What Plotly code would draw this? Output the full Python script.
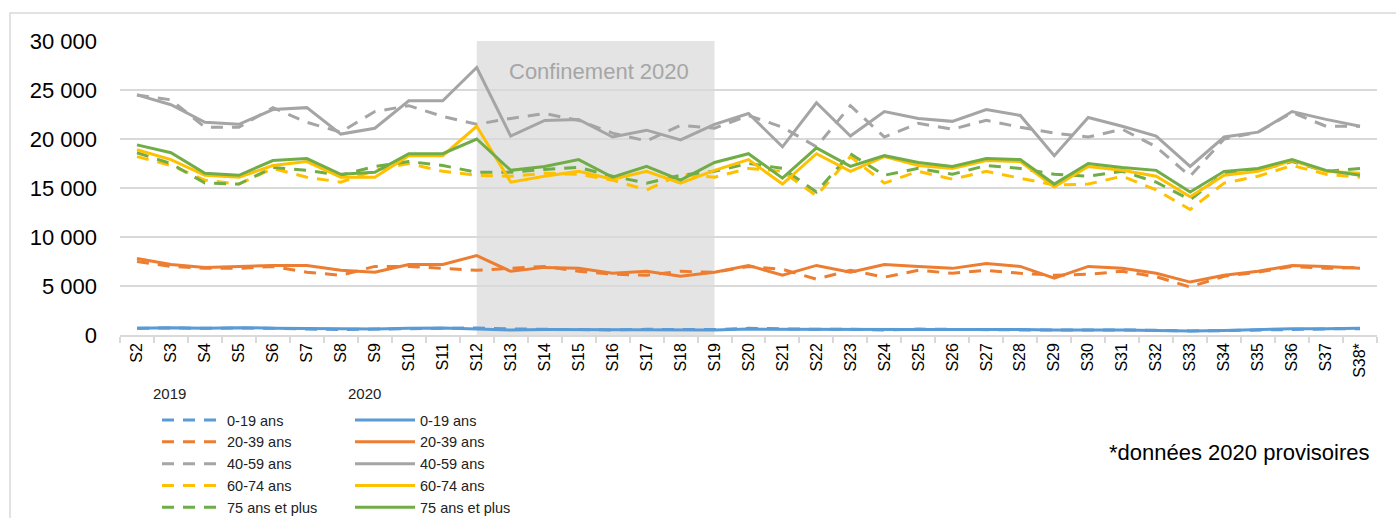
import plotly.graph_objects as go

weeks = ["S%d" % i for i in range(2, 38)] + ["S38*"]

# 2019 (dashed)
y2019_0_19 = [680, 720, 680, 720, 680, 620, 550, 600, 650, 700,
              720, 620, 620, 550, 520, 580, 550, 550, 680, 620,
              580, 580, 520, 600, 550, 550, 520, 520, 550, 520,
              480, 420, 450, 520, 600, 620, 650]
y2019_20_39 = [7500, 7000, 6800, 6800, 7000, 6400, 6100, 7000, 7000, 6800,
               6600, 6800, 7000, 6500, 6200, 6100, 6500, 6400, 7000, 6700,
               5700, 6600, 5900, 6600, 6300, 6600, 6300, 6100, 6200, 6500,
               5950, 4900, 6000, 6400, 7000, 6800, 6900]
y2019_40_59 = [24500, 24000, 21200, 21200, 23200, 21700, 20700, 22800, 23400, 22300,
               21500, 22100, 22600, 21900, 20600, 19800, 21400, 21100, 22400, 21200,
               19200, 23400, 20200, 21600, 21000, 21900, 21200, 20600, 20200, 21000,
               19200, 16200, 20000, 20700, 22700, 21300, 21300]
y2019_60_74 = [18200, 17300, 15800, 15400, 17000, 16100, 15600, 16800, 17500, 16700,
               16300, 16200, 16500, 16400, 15800, 14800, 16400, 16100, 17000, 16700,
               14200, 18200, 15500, 16700, 15900, 16700, 16000, 15300, 15400, 16200,
               14800, 12800, 15500, 16200, 17300, 16400, 16100]
y2019_75 = [18600, 17500, 15500, 15400, 17100, 16800, 16300, 17200, 17700, 17300,
            16600, 16600, 16900, 17100, 16200, 15500, 16300, 16700, 17500, 17000,
            14600, 18500, 16300, 17000, 16400, 17300, 17000, 16400, 16200, 16700,
            15600, 13800, 16500, 16800, 17700, 16700, 17000]

# 2020 (solid)
y2020_0_19 = [700, 750, 700, 750, 700, 650, 600, 620, 680, 720,
              620, 500, 550, 550, 500, 520, 500, 520, 600, 580,
              550, 520, 550, 550, 550, 580, 550, 500, 520, 500,
              450, 400, 450, 550, 650, 650, 680]
y2020_20_39 = [7800, 7200, 6900, 7000, 7100, 7100, 6600, 6400, 7200, 7200,
               8100, 6500, 6900, 6800, 6300, 6500, 6000, 6400, 7100, 6100,
               7100, 6400, 7200, 7000, 6800, 7300, 7000, 5800, 7000, 6800,
               6300, 5400, 6100, 6500, 7100, 7000, 6800]
y2020_40_59 = [24500, 23500, 21700, 21500, 23000, 23200, 20500, 21100, 23900, 23900,
               27300, 20300, 21900, 22000, 20200, 20900, 19900, 21500, 22600, 19200,
               23700, 20300, 22800, 22100, 21800, 23000, 22400, 18300, 22200, 21300,
               20300, 17200, 20200, 20700, 22800, 22000, 21300]
y2020_60_74 = [18900, 17900, 16300, 16100, 17300, 17700, 16100, 16100, 18300, 18300,
               21300, 15600, 16200, 16700, 15900, 16700, 15500, 16800, 17900, 15400,
               18500, 16700, 18200, 17300, 17000, 17800, 17700, 15100, 17200, 16800,
               16200, 14100, 16300, 16700, 17800, 16700, 16500]
y2020_75 = [19400, 18600, 16500, 16300, 17800, 18000, 16400, 16600, 18500, 18500,
            20000, 16800, 17200, 17900, 16100, 17200, 15800, 17600, 18500, 16000,
            19100, 17200, 18300, 17600, 17200, 18000, 17900, 15400, 17500, 17100,
            16800, 14600, 16700, 17000, 17900, 16800, 16300]

age_labels = ["0-19 ans", "20-39 ans", "40-59 ans", "60-74 ans", "75 ans et plus"]
colors = ["#5B9BD5", "#ED7D31", "#A5A5A5", "#FFC000", "#70AD47"]
series2019 = [y2019_0_19, y2019_20_39, y2019_40_59, y2019_60_74, y2019_75]
series2020 = [y2020_0_19, y2020_20_39, y2020_40_59, y2020_60_74, y2020_75]

FONT = "Liberation Sans, Arial, sans-serif"

fig = go.Figure()
for lab, col, ys in zip(age_labels, colors, series2019):
    fig.add_trace(go.Scatter(x=weeks, y=ys, mode="lines", name=lab,
                             line=dict(color=col, width=3, dash="12px,9px"),
                             legend="legend"))
for lab, col, ys in zip(age_labels, colors, series2020):
    fig.add_trace(go.Scatter(x=weeks, y=ys, mode="lines", name=lab,
                             line=dict(color=col, width=3),
                             legend="legend2"))

i0 = weeks.index("S12")
i1 = weeks.index("S19")
fig.add_shape(type="rect", xref="x", yref="y", x0=i0, x1=i1, y0=0, y1=30000,
              fillcolor="#e4e4e4", line=dict(width=0), layer="below")

# outer frame
L, T, W, H = 120, 41, 1257, 294
def px(x): return (x - L) / W
def py(y): return (T + H - y) / H
fig.add_shape(type="rect", xref="paper", yref="paper",
              x0=px(10), x1=px(1402), y0=py(530), y1=py(13),
              line=dict(color="#d9d9d9", width=1.5), fillcolor="rgba(0,0,0,0)", layer="below")

fig.add_annotation(x=px(599), y=26900, xref="paper", yref="y", text="Confinement 2020",
                   showarrow=False, font=dict(family=FONT, size=22, color="#a6a6a6"),
                   xanchor="center", yanchor="middle")
fig.add_annotation(x=px(1372), y=py(452), xref="paper", yref="paper",
                   text="*données 2020 provisoires", showarrow=False,
                   font=dict(family=FONT, size=22, color="#000000"),
                   xanchor="right", yanchor="middle")
for txt, xx in (("2019", 151), ("2020", 346)):
    fig.add_annotation(x=px(xx), y=py(393), xref="paper", yref="paper", text=txt,
                       showarrow=False, font=dict(family=FONT, size=15, color="#222"),
                       xanchor="left", yanchor="middle")

legend_common = dict(orientation="v", xanchor="left", yanchor="top",
                     bgcolor="rgba(0,0,0,0)", font=dict(family=FONT, size=14.5, color="#222"),
                     itemwidth=60, tracegroupgap=0, itemclick=False, itemdoubleclick=False)

fig.update_layout(
    width=1396, height=518,
    margin=dict(l=L, r=1396 - L - W, t=T, b=518 - T - H, autoexpand=False),
    paper_bgcolor="white", plot_bgcolor="white",
    separators=", ",
    font=dict(family=FONT, color="#000"),
    showlegend=True,
    legend=dict(x=px(157), y=py(404), **legend_common),
    legend2=dict(x=px(350), y=py(404), **legend_common),
    xaxis=dict(type="category", range=[-0.5, len(weeks) - 0.5], tickangle=-90,
               tickson="boundaries", ticks="outside", ticklen=6, tickcolor="#d9d9d9", tickwidth=1.5,
               showline=True, linecolor="#d9d9d9", linewidth=1.5, showgrid=False, automargin=False,
               tickfont=dict(family=FONT, size=16, color="#000")),
    yaxis=dict(range=[0, 30000], tickvals=[0, 5000, 10000, 15000, 20000, 25000, 30000],
               tickformat=",d", showgrid=True, gridcolor="#d9d9d9", gridwidth=1.5,
               zeroline=False, showline=False, ticks="", ticklabelstandoff=22, automargin=False,
               tickfont=dict(family=FONT, size=22, color="#000")),
)

fig.write_html("out.html", config={"displayModeBar": False},
               post_script="document.body.style.margin='0';")
